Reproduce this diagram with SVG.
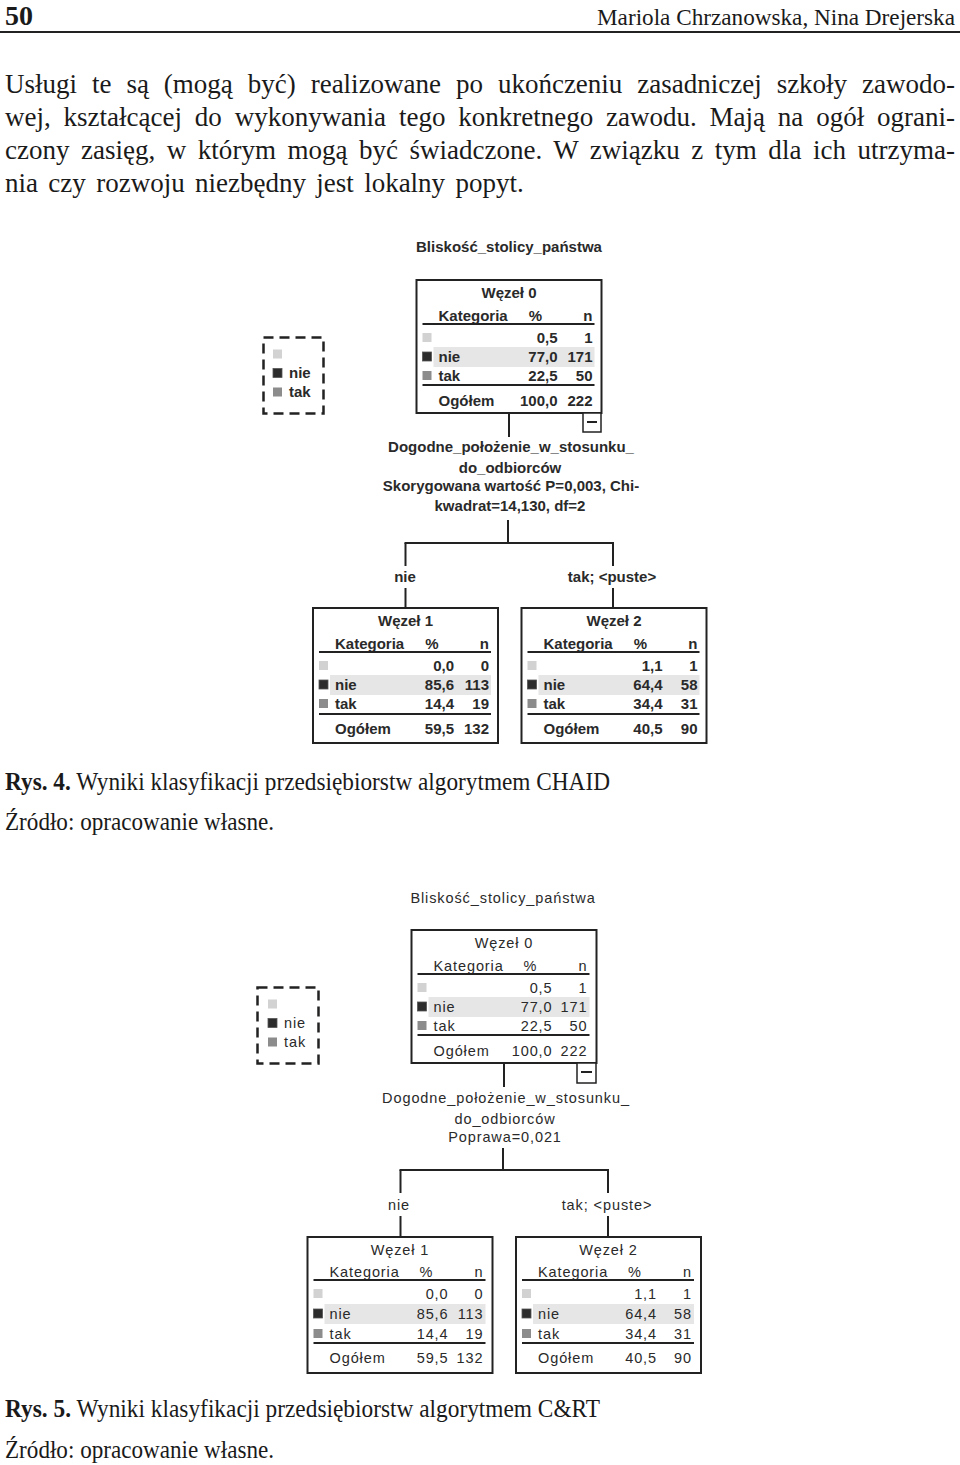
<svg xmlns="http://www.w3.org/2000/svg" width="960" height="1465" viewBox="0 0 960 1465">
<style>
.serif{font-family:"Liberation Serif","Times New Roman",serif;fill:#1a1a1a}
.t1{font-family:"Liberation Sans",Arial,sans-serif;font-size:15px;font-weight:bold;fill:#2a2a2a}
.t2{font-family:"Liberation Sans",Arial,sans-serif;font-size:14.5px;letter-spacing:0.9px;fill:#2a2a2a}
.c{text-anchor:middle}
.e{text-anchor:end}
.box{fill:#fff;stroke:#222;stroke-width:2}
.rule{stroke:#222;stroke-width:2}
.band{fill:#e6e6e6}
.sq1{fill:#d2d2d2}
.sq2{fill:#2c2c2c;stroke:#555;stroke-width:0.8}
.sq3{fill:#8c8c8c}
.ln{stroke:#222;stroke-width:2;fill:none}
.dash{fill:none;stroke:#222;stroke-width:2.5;stroke-dasharray:10 6}
.tog{fill:#fff;stroke:#222;stroke-width:1.5}
</style>

<!-- header -->
<g id="header">
<text class="serif" x="5" y="25" font-size="28" font-weight="bold">50</text>
<text class="serif" x="955" y="25" font-size="23.2" text-anchor="end">Mariola Chrzanowska, Nina Drejerska</text>
<line x1="0" y1="32" x2="960" y2="32" stroke="#222" stroke-width="2"/>
</g>

<!-- paragraph -->
<g id="paragraph" class="serif" font-size="27">
<text x="5" y="93" word-spacing="8.2" textLength="950" lengthAdjust="spacing">Usługi te są (mogą być) realizowane po ukończeniu zasadniczej szkoły zawodo-</text>
<text x="5" y="126" word-spacing="6.1" textLength="950" lengthAdjust="spacing">wej, kształcącej do wykonywania tego konkretnego zawodu. Mają na ogół ograni-</text>
<text x="5" y="159" word-spacing="4.7" textLength="950" lengthAdjust="spacing">czony zasięg, w którym mogą być świadczone. W związku z tym dla ich utrzyma-</text>
<text x="5" y="192" word-spacing="3.6">nia czy rozwoju niezbędny jest lokalny popyt.</text>
</g>

<!-- ===== Figure 1 (CHAID) ===== -->
<g id="fig1-title"><text class="t1 c" x="509" y="252">Bliskość_stolicy_państwa</text></g>

<g id="fig1-legend">
<rect class="dash" x="263.5" y="337.5" width="60" height="76"/>
<rect class="sq1" x="273" y="349.5" width="9" height="9"/>
<rect class="sq2" x="273" y="368.5" width="9" height="9"/>
<text class="t1" x="289" y="378">nie</text>
<rect class="sq3" x="273" y="387.5" width="9" height="9"/>
<text class="t1" x="289" y="397">tak</text>
</g>

<g id="fig1-connectors">
<line class="ln" x1="509" y1="413" x2="509" y2="437"/>
<line class="ln" x1="508" y1="520" x2="508" y2="543"/>
<line class="ln" x1="404.5" y1="543" x2="614" y2="543"/>
<line class="ln" x1="405.5" y1="543" x2="405.5" y2="566"/>
<line class="ln" x1="613" y1="543" x2="613" y2="566"/>
<line class="ln" x1="405.5" y1="588" x2="405.5" y2="608"/>
<line class="ln" x1="613" y1="588" x2="613" y2="608"/>
<text class="t1 c" x="405" y="582">nie</text>
<text class="t1 c" x="612" y="582">tak; &lt;puste&gt;</text>
</g>

<g id="fig1-node0" transform="translate(416.5,280)">
<rect class="box" width="185" height="133"/>
<text class="t1 c" x="92.5" y="18">Węzeł 0</text>
<text class="t1" x="22" y="41">Kategoria</text>
<text class="t1 c" x="119" y="41">%</text>
<text class="t1 e" x="176" y="41">n</text>
<line class="rule" x1="6" y1="44" x2="178" y2="44"/>
<rect class="sq1" x="6" y="53" width="9" height="9"/>
<text class="t1 e" x="141" y="63">0,5</text>
<text class="t1 e" x="176" y="63">1</text>
<rect class="band" x="17" y="67" width="161" height="20"/>
<rect class="sq2" x="6" y="72" width="9" height="9"/>
<text class="t1" x="22" y="82">nie</text>
<text class="t1 e" x="141" y="82">77,0</text>
<text class="t1 e" x="176" y="82">171</text>
<rect class="sq3" x="6" y="91" width="9" height="9"/>
<text class="t1" x="22" y="101">tak</text>
<text class="t1 e" x="141" y="101">22,5</text>
<text class="t1 e" x="176" y="101">50</text>
<line class="rule" x1="6" y1="105" x2="178" y2="105"/>
<text class="t1" x="22" y="126">Ogółem</text>
<text class="t1 e" x="141" y="126">100,0</text>
<text class="t1 e" x="176" y="126">222</text>
</g>

<g id="fig1-toggle">
<rect class="tog" x="583" y="413" width="18" height="19"/>
<line x1="587" y1="422" x2="597" y2="422" stroke="#222" stroke-width="2"/>
</g>

<g id="fig1-split">
<text class="t1 c" x="511" y="452">Dogodne_położenie_w_stosunku_</text>
<text class="t1 c" x="510" y="473">do_odbiorców</text>
<text class="t1 c" x="511" y="491">Skorygowana wartość P=0,003, Chi-</text>
<text class="t1 c" x="510" y="511">kwadrat=14,130, df=2</text>
</g>

<g id="fig1-node1" transform="translate(313,608)">
<rect class="box" width="185" height="135"/>
<text class="t1 c" x="92.5" y="18">Węzeł 1</text>
<text class="t1" x="22" y="41">Kategoria</text>
<text class="t1 c" x="119" y="41">%</text>
<text class="t1 e" x="176" y="41">n</text>
<line class="rule" x1="6" y1="44" x2="178" y2="44"/>
<rect class="sq1" x="6" y="53" width="9" height="9"/>
<text class="t1 e" x="141" y="63">0,0</text>
<text class="t1 e" x="176" y="63">0</text>
<rect class="band" x="17" y="67" width="161" height="20"/>
<rect class="sq2" x="6" y="72" width="9" height="9"/>
<text class="t1" x="22" y="82">nie</text>
<text class="t1 e" x="141" y="82">85,6</text>
<text class="t1 e" x="176" y="82">113</text>
<rect class="sq3" x="6" y="91" width="9" height="9"/>
<text class="t1" x="22" y="101">tak</text>
<text class="t1 e" x="141" y="101">14,4</text>
<text class="t1 e" x="176" y="101">19</text>
<line class="rule" x1="6" y1="106" x2="178" y2="106"/>
<text class="t1" x="22" y="126">Ogółem</text>
<text class="t1 e" x="141" y="126">59,5</text>
<text class="t1 e" x="176" y="126">132</text>
</g>

<g id="fig1-node2" transform="translate(521.5,608)">
<rect class="box" width="185" height="135"/>
<text class="t1 c" x="92.5" y="18">Węzeł 2</text>
<text class="t1" x="22" y="41">Kategoria</text>
<text class="t1 c" x="119" y="41">%</text>
<text class="t1 e" x="176" y="41">n</text>
<line class="rule" x1="6" y1="44" x2="178" y2="44"/>
<rect class="sq1" x="6" y="53" width="9" height="9"/>
<text class="t1 e" x="141" y="63">1,1</text>
<text class="t1 e" x="176" y="63">1</text>
<rect class="band" x="17" y="67" width="161" height="20"/>
<rect class="sq2" x="6" y="72" width="9" height="9"/>
<text class="t1" x="22" y="82">nie</text>
<text class="t1 e" x="141" y="82">64,4</text>
<text class="t1 e" x="176" y="82">58</text>
<rect class="sq3" x="6" y="91" width="9" height="9"/>
<text class="t1" x="22" y="101">tak</text>
<text class="t1 e" x="141" y="101">34,4</text>
<text class="t1 e" x="176" y="101">31</text>
<line class="rule" x1="6" y1="106" x2="178" y2="106"/>
<text class="t1" x="22" y="126">Ogółem</text>
<text class="t1 e" x="141" y="126">40,5</text>
<text class="t1 e" x="176" y="126">90</text>
</g>

<g id="caption1" class="serif" font-size="25">
<text x="5" y="790" textLength="605" lengthAdjust="spacingAndGlyphs"><tspan font-weight="bold">Rys. 4.</tspan> Wyniki klasyfikacji przedsiębiorstw algorytmem CHAID</text>
<text x="5" y="830" textLength="269" lengthAdjust="spacingAndGlyphs">Źródło: opracowanie własne.</text>
</g>

<!-- ===== Figure 2 (C&RT) ===== -->
<g id="fig2-title"><text class="t2 c" x="503" y="903">Bliskość_stolicy_państwa</text></g>

<g id="fig2-legend">
<rect class="dash" x="257.5" y="987.5" width="61" height="76"/>
<rect class="sq1" x="268" y="999.5" width="9" height="9"/>
<rect class="sq2" x="268" y="1018.5" width="9" height="9"/>
<text class="t2" x="284" y="1028">nie</text>
<rect class="sq3" x="268" y="1037.5" width="9" height="9"/>
<text class="t2" x="284" y="1047">tak</text>
</g>

<g id="fig2-connectors">
<line class="ln" x1="504" y1="1063" x2="504" y2="1087"/>
<line class="ln" x1="503" y1="1148" x2="503" y2="1170"/>
<line class="ln" x1="399.5" y1="1170" x2="609" y2="1170"/>
<line class="ln" x1="400.5" y1="1170" x2="400.5" y2="1193"/>
<line class="ln" x1="608" y1="1170" x2="608" y2="1193"/>
<line class="ln" x1="400.5" y1="1216" x2="400.5" y2="1237"/>
<line class="ln" x1="608" y1="1216" x2="608" y2="1237"/>
<text class="t2 c" x="399" y="1210">nie</text>
<text class="t2 c" x="607" y="1210">tak; &lt;puste&gt;</text>
</g>

<g id="fig2-node0" transform="translate(411.5,930)">
<rect class="box" width="185" height="133"/>
<text class="t2 c" x="92.5" y="18">Węzeł 0</text>
<text class="t2" x="22" y="41">Kategoria</text>
<text class="t2 c" x="119" y="41">%</text>
<text class="t2 e" x="176" y="41">n</text>
<line class="rule" x1="6" y1="44" x2="178" y2="44"/>
<rect class="sq1" x="6" y="53" width="9" height="9"/>
<text class="t2 e" x="141" y="63">0,5</text>
<text class="t2 e" x="176" y="63">1</text>
<rect class="band" x="17" y="67" width="161" height="20"/>
<rect class="sq2" x="6" y="72" width="9" height="9"/>
<text class="t2" x="22" y="82">nie</text>
<text class="t2 e" x="141" y="82">77,0</text>
<text class="t2 e" x="176" y="82">171</text>
<rect class="sq3" x="6" y="91" width="9" height="9"/>
<text class="t2" x="22" y="101">tak</text>
<text class="t2 e" x="141" y="101">22,5</text>
<text class="t2 e" x="176" y="101">50</text>
<line class="rule" x1="6" y1="105" x2="178" y2="105"/>
<text class="t2" x="22" y="126">Ogółem</text>
<text class="t2 e" x="141" y="126">100,0</text>
<text class="t2 e" x="176" y="126">222</text>
</g>

<g id="fig2-toggle">
<rect class="tog" x="577" y="1063" width="19" height="20"/>
<line x1="581" y1="1072" x2="592" y2="1072" stroke="#222" stroke-width="2"/>
</g>

<g id="fig2-split">
<text class="t2 c" x="506" y="1103">Dogodne_położenie_w_stosunku_</text>
<text class="t2 c" x="505" y="1124">do_odbiorców</text>
<text class="t2 c" x="505" y="1142">Poprawa=0,021</text>
</g>

<g id="fig2-node1" transform="translate(307.5,1237)">
<rect class="box" width="185" height="136"/>
<text class="t2 c" x="92.5" y="18">Węzeł 1</text>
<text class="t2" x="22" y="40">Kategoria</text>
<text class="t2 c" x="119" y="40">%</text>
<text class="t2 e" x="176" y="40">n</text>
<line class="rule" x1="6" y1="43" x2="178" y2="43"/>
<rect class="sq1" x="6" y="52" width="9" height="9"/>
<text class="t2 e" x="141" y="62">0,0</text>
<text class="t2 e" x="176" y="62">0</text>
<rect class="band" x="17" y="67" width="161" height="20"/>
<rect class="sq2" x="6" y="72" width="9" height="9"/>
<text class="t2" x="22" y="82">nie</text>
<text class="t2 e" x="141" y="82">85,6</text>
<text class="t2 e" x="176" y="82">113</text>
<rect class="sq3" x="6" y="92" width="9" height="9"/>
<text class="t2" x="22" y="102">tak</text>
<text class="t2 e" x="141" y="102">14,4</text>
<text class="t2 e" x="176" y="102">19</text>
<line class="rule" x1="6" y1="106" x2="178" y2="106"/>
<text class="t2" x="22" y="126">Ogółem</text>
<text class="t2 e" x="141" y="126">59,5</text>
<text class="t2 e" x="176" y="126">132</text>
</g>

<g id="fig2-node2" transform="translate(516,1237)">
<rect class="box" width="185" height="136"/>
<text class="t2 c" x="92.5" y="18">Węzeł 2</text>
<text class="t2" x="22" y="40">Kategoria</text>
<text class="t2 c" x="119" y="40">%</text>
<text class="t2 e" x="176" y="40">n</text>
<line class="rule" x1="6" y1="43" x2="178" y2="43"/>
<rect class="sq1" x="6" y="52" width="9" height="9"/>
<text class="t2 e" x="141" y="62">1,1</text>
<text class="t2 e" x="176" y="62">1</text>
<rect class="band" x="17" y="67" width="161" height="20"/>
<rect class="sq2" x="6" y="72" width="9" height="9"/>
<text class="t2" x="22" y="82">nie</text>
<text class="t2 e" x="141" y="82">64,4</text>
<text class="t2 e" x="176" y="82">58</text>
<rect class="sq3" x="6" y="92" width="9" height="9"/>
<text class="t2" x="22" y="102">tak</text>
<text class="t2 e" x="141" y="102">34,4</text>
<text class="t2 e" x="176" y="102">31</text>
<line class="rule" x1="6" y1="106" x2="178" y2="106"/>
<text class="t2" x="22" y="126">Ogółem</text>
<text class="t2 e" x="141" y="126">40,5</text>
<text class="t2 e" x="176" y="126">90</text>
</g>

<g id="caption2" class="serif" font-size="25">
<text x="5" y="1417" textLength="595" lengthAdjust="spacingAndGlyphs"><tspan font-weight="bold">Rys. 5.</tspan> Wyniki klasyfikacji przedsiębiorstw algorytmem C&amp;RT</text>
<text x="5" y="1458" textLength="269" lengthAdjust="spacingAndGlyphs">Źródło: opracowanie własne.</text>
</g>
</svg>
